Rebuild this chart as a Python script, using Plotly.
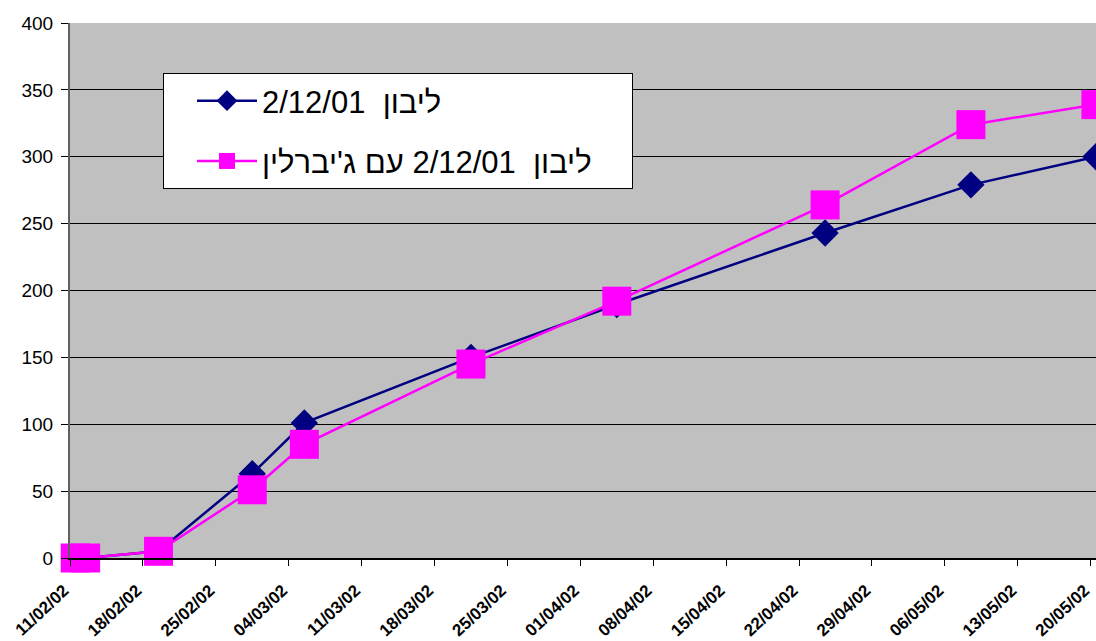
import plotly.graph_objects as go
import pandas as pd

# ---- data ----
dates = ["2002-02-11", "2002-02-12", "2002-02-19", "2002-02-28", "2002-03-05",
         "2002-03-21", "2002-04-04", "2002-04-24", "2002-05-08", "2002-05-20"]
bleach = [0, 0, 5, 63, 101, 150, 189.5, 243, 279, 300]
bleach_ga = [0, 0, 5, 51, 85, 145, 192, 264, 324, 339]

name_bleach = "\u202bליבון  2/12/01\u202c"
name_bleach_ga = "\u202bליבון  2/12/01 עם ג'יברלין\u202c\u00a0\u00a0\u00a0\u00a0"

y_ticks = [0, 50, 100, 150, 200, 250, 300, 350, 400]

# Excel date axis "between tick marks": points sit in the middle of their day
x = pd.to_datetime(dates) + pd.Timedelta(hours=12)

FONT = "Arial, 'Liberation Sans', 'DejaVu Sans', sans-serif"

fig = go.Figure()
fig.add_trace(go.Scatter(
    x=x, y=bleach, name=name_bleach, mode="lines+markers",
    line=dict(color="#000080", width=2.5),
    marker=dict(symbol="diamond", size=21, color="#000080", line=dict(width=0)),
    legendgroup="a", cliponaxis=False,
))
fig.add_trace(go.Scatter(
    x=x, y=bleach_ga, name=name_bleach_ga, mode="lines+markers",
    line=dict(color="#FF00FF", width=2.5),
    marker=dict(symbol="square", size=29, color="#FF00FF", line=dict(width=0)),
    legendgroup="b", cliponaxis=False,
))

start = pd.Timestamp("2002-02-11")
end = start + pd.Timedelta(days=98.51)

W, H = 1096, 641
ml, mr, mt, mb = 70, 0, 23, 83
pw, ph = W - ml - mr, H - mt - mb

fig.update_layout(
    width=W, height=H,
    margin=dict(l=ml, r=mr, t=mt, b=mb, pad=0),
    paper_bgcolor="white",
    plot_bgcolor="#C0C0C0",
    font=dict(family=FONT, color="black"),
    showlegend=True,
    legend=dict(
        x=(163 - ml) / pw, y=(H - mb - 73) / ph,
        xanchor="left", yanchor="top",
        bgcolor="white", bordercolor="black", borderwidth=1,
        font=dict(size=31, family=FONT, color="black"),
        itemwidth=60, tracegroupgap=17, traceorder="grouped",
        indentation=28,
    ),
    xaxis=dict(
        type="date", range=[start, end],
        tick0="2002-02-11", dtick=7 * 24 * 3600 * 1000,
        tickformat="%d/%m/%y", tickangle=-43,
        tickfont=dict(size=17, family=FONT, color="black", weight="bold"),
        ticks="outside", ticklen=6, tickcolor="black", tickwidth=1,
        ticklabelstandoff=8, ticklabelshift=-6, ticklabeloverflow="allow",
        showline=True, linecolor="black", linewidth=2,
        showgrid=False, zeroline=False, automargin=False,
    ),
    yaxis=dict(
        range=[0, 400], tickvals=y_ticks,
        tickfont=dict(size=19, family=FONT, color="black"),
        ticks="outside", ticklen=7, tickcolor="black", tickwidth=1,
        ticklabelstandoff=4,
        showline=True, linecolor="#606060", linewidth=2,
        showgrid=True, gridcolor="black", gridwidth=1,
        zeroline=False, automargin=False,
    ),
)

fig.write_html("out.html")
